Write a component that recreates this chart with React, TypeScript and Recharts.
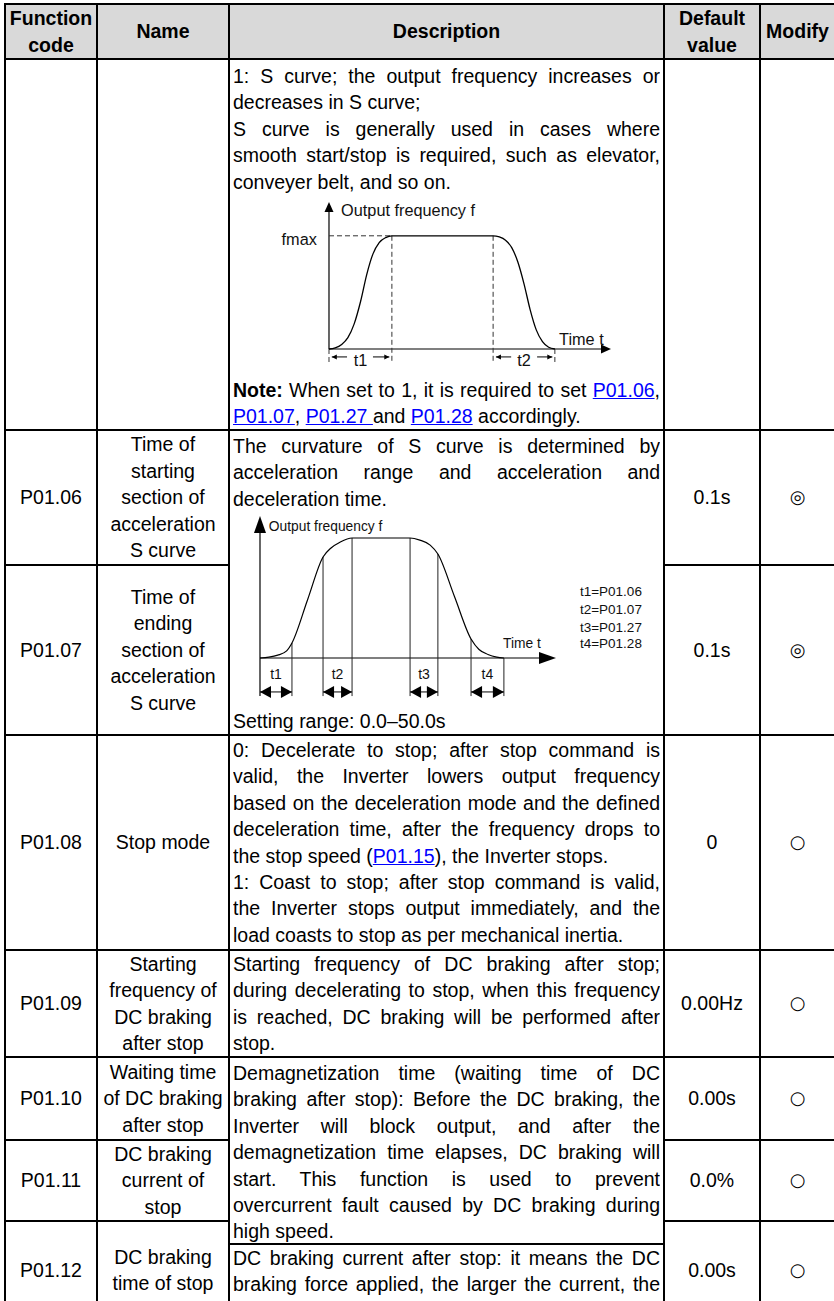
import React from 'react';
import { ComposedChart, Line, Scatter, XAxis, YAxis, ReferenceLine } from 'recharts';

const FONT = '"Liberation Sans", Arial, Helvetica, sans-serif';
const FS = 19.5;
const LH = 26.4;

// ---------------- table content ----------------
const headerCells = [['Function', 'code'], ['Name'], ['Description'], ['Default', 'value'], ['Modify']];
const functionCodes = ['', 'P01.06', 'P01.07', 'P01.08', 'P01.09', 'P01.10', 'P01.11', 'P01.12'];
const parameterNames = [
  [],
  ['Time of', 'starting', 'section of', 'acceleration', 'S curve'],
  ['Time of', 'ending', 'section of', 'acceleration', 'S curve'],
  ['Stop mode'],
  ['Starting', 'frequency of', 'DC braking', 'after stop'],
  ['Waiting time', 'of DC braking', 'after stop'],
  ['DC braking', 'current of', 'stop'],
  ['DC braking', 'time of stop'],
];
const defaultValues = ['', '0.1s', '0.1s', '0', '0.00Hz', '0.00s', '0.0%', '0.00s'];
const modifyMarks = ['', '◎', '◎', '○', '○', '○', '○', '○'];

type Seg = string | { t: string; k: 'b' | 'a' };
type DLine = { s: Seg[]; j: boolean };
const L = (j: boolean, ...s: Seg[]): DLine => ({ s, j });
const lnk = (t: string): Seg => ({ t, k: 'a' });
const bold = (t: string): Seg => ({ t, k: 'b' });

const descSCurveTop = [
  L(true, '1: S curve; the output frequency increases or'),
  L(false, 'decreases in S curve;'),
  L(true, 'S curve is generally used in cases where'),
  L(true, 'smooth start/stop is required, such as elevator,'),
  L(false, 'conveyer belt, and so on.'),
];
const descSCurveNote = [
  L(true, bold('Note:'), ' When set to 1, it is required to set ', lnk('P01.06'), ','),
  L(false, lnk('P01.07'), ', ', lnk('P01.27 '), 'and ', lnk('P01.28'), ' accordingly.'),
];
const descCurvatureTop = [
  L(true, 'The curvature of S curve is determined by'),
  L(true, 'acceleration range and acceleration and'),
  L(false, 'deceleration time.'),
];
const descCurvatureBottom = [L(false, 'Setting range: 0.0–50.0s')];
const descStopMode = [
  L(true, '0: Decelerate to stop; after stop command is'),
  L(true, 'valid, the Inverter lowers output frequency'),
  L(true, 'based on the deceleration mode and the defined'),
  L(true, 'deceleration time, after the frequency drops to'),
  L(false, 'the stop speed (', lnk('P01.15'), '), the Inverter stops.'),
  L(true, '1: Coast to stop; after stop command is valid,'),
  L(true, 'the Inverter stops output immediately, and the'),
  L(false, 'load coasts to stop as per mechanical inertia.'),
];
const descStartFreq = [
  L(true, 'Starting frequency of DC braking after stop;'),
  L(true, 'during decelerating to stop, when this frequency'),
  L(true, 'is reached, DC braking will be performed after'),
  L(false, 'stop.'),
];
const descDemag = [
  L(true, 'Demagnetization time (waiting time of DC'),
  L(true, 'braking after stop): Before the DC braking, the'),
  L(true, 'Inverter will block output, and after the'),
  L(true, 'demagnetization time elapses, DC braking will'),
  L(true, 'start. This function is used to prevent'),
  L(true, 'overcurrent fault caused by DC braking during'),
  L(false, 'high speed.'),
];
const descBrakeTime = [
  L(true, 'DC braking current after stop: it means the DC'),
  L(true, 'braking force applied, the larger the current, the'),
  L(false, 'stronger the DC braking effect.'),
];

// ---------------- diagram 1 (S curve) data ----------------
const sCurveTime = [0, 2.2, 4.5, 6.7, 8.9, 11.2, 13.4, 15.6, 17.8, 20.1, 22.3, 40.0, 58.2, 60.4, 62.6, 64.8, 67.0, 69.2, 71.3, 73.5, 75.7, 77.9, 80.1];
const sCurveFreq = [0, 0.8, 3.1, 7.7, 16.9, 32.3, 50.8, 64.7, 72.4, 75.8, 77, 77, 77, 76.2, 74, 69, 59, 44, 27, 13, 5, 1.2, 0];
const fmaxLevel = 77;
const t1End = 22.3;
const t2Start = 58.2;
const t2End = 80.1;
const dimLevel1 = -5.4;
const tickBottom1 = -9.5;
const labels1 = [
  { x: 4.3, y: 94.6, label: 'Output frequency f', anchor: 'start' },
  { x: -4.3, y: 75, label: 'fmax', anchor: 'end' },
  { x: 81.6, y: 6.8, label: 'Time t', anchor: 'start' },
  { x: 11.15, y: -7.3, label: 't1', anchor: 'middle' },
  { x: 69.15, y: -7.3, label: 't2', anchor: 'middle' },
];
const dimSegments1 = [
  [1, 6.4], [15.6, 21.4], [59.2, 64.6], [73.8, 79.2],
];
const dimHeads1 = [
  { x: 1, y: dimLevel1, dir: 'left' }, { x: 21.4, y: dimLevel1, dir: 'right' },
  { x: 59.2, y: dimLevel1, dir: 'left' }, { x: 79.2, y: dimLevel1, dir: 'right' },
];
const axisHeads1 = [{ x: 100, y: 0, dir: 'right' }, { x: 0, y: 100, dir: 'up' }];

// ---------------- diagram 2 (curvature) data ----------------
const sCurve2Time = [0, 3, 6, 9, 10.8, 16.05, 21.3, 24, 27, 31.1, 40.9, 50.7, 54, 57.5, 60.1, 65.7, 71.3, 74, 77, 80, 82.4];
const sCurve2Freq = [0, 0.6, 2, 5, 10.6, 40.85, 71.1, 77.5, 81.5, 84.5, 84.5, 84.5, 83, 79.5, 73.2, 43.3, 13.4, 6, 2.5, 0.6, 0];
const guideX2 = [10.8, 21.3, 31.1, 50.7, 60.1, 71.3, 82.4];
const guideTop2 = [10.6, 71.1, 84.5, 84.5, 73.2, 13.4, 0];
const guideBottom2 = -26.8;
const dimLevel2 = -23.9;
const dimSpans2 = [[0, 10.8], [21.3, 31.1], [50.7, 60.1], [71.3, 82.4]];
const dimNames2 = ['t1', 't2', 't3', 't4'];
const tLabelLevel2 = -11.3;
const legend2 = ['t1=P01.06', 't2=P01.07', 't3=P01.27', 't4=P01.28'];
const legendY2 = [46.5, 34.5, 21.8, 9.9];
const legendX2 = 108.1;
const labels2 = [
  { x: 3.0, y: 92.3, label: 'Output frequency f', anchor: 'start' },
  { x: 82.1, y: 9.9, label: 'Time t', anchor: 'start' },
];
const axisHeads2 = [{ x: 100, y: 0, dir: 'right' }, { x: 0, y: 100, dir: 'up' }];

// ---------------- shapes ----------------
const headShape = (len: number, half: number) => (p: any) => {
  const { cx, cy, payload } = p;
  const d = payload.dir;
  let pts = '';
  if (d === 'right') pts = `${cx},${cy} ${cx - len},${cy - half} ${cx - len},${cy + half}`;
  else if (d === 'left') pts = `${cx},${cy} ${cx + len},${cy - half} ${cx + len},${cy + half}`;
  else pts = `${cx},${cy} ${cx - half},${cy + len} ${cx + half},${cy + len}`;
  return <polygon points={pts} fill="#000" stroke="none" />;
};
const textShape = (size: number) => (p: any) => (
  <text
    x={p.cx}
    y={p.cy}
    textAnchor={p.payload.anchor}
    dominantBaseline="central"
    fontSize={size}
    fontFamily={FONT}
    fill="#111"
  >
    {p.payload.label}
  </text>
);

function SCurveDiagram() {
  const curve = sCurveTime.map((x, i) => ({ x, y: sCurveFreq[i] }));
  const dash = '5 3';
  return (
    <ComposedChart width={427} height={182} margin={{ top: 0, right: 0, bottom: 0, left: 0 }}>
      <XAxis type="number" dataKey="x" domain={[-34.04, 117.38]} hide height={0} />
      <YAxis type="number" dataKey="y" domain={[-19.05, 104.76]} hide width={0} />
      <ReferenceLine segment={[{ x: 0, y: 0 }, { x: 97, y: 0 }]} stroke="#000" strokeWidth={1.2} ifOverflow="visible" />
      <ReferenceLine segment={[{ x: 0, y: 0 }, { x: 0, y: 96 }]} stroke="#000" strokeWidth={1.2} ifOverflow="visible" />
      <ReferenceLine segment={[{ x: 0, y: 0 }, { x: 0, y: tickBottom1 }]} stroke="#333" strokeDasharray={dash} ifOverflow="visible" />
      <ReferenceLine segment={[{ x: 0, y: fmaxLevel }, { x: t1End, y: fmaxLevel }]} stroke="#333" strokeDasharray={dash} ifOverflow="visible" />
      <ReferenceLine segment={[{ x: t1End, y: fmaxLevel }, { x: t1End, y: tickBottom1 }]} stroke="#333" strokeDasharray={dash} ifOverflow="visible" />
      <ReferenceLine segment={[{ x: t2Start, y: fmaxLevel }, { x: t2Start, y: tickBottom1 }]} stroke="#333" strokeDasharray={dash} ifOverflow="visible" />
      <ReferenceLine segment={[{ x: t2End, y: 0 }, { x: t2End, y: tickBottom1 }]} stroke="#333" strokeDasharray={dash} ifOverflow="visible" />
      {dimSegments1.map((s, i) => (
        <ReferenceLine key={i} segment={[{ x: s[0], y: dimLevel1 }, { x: s[1], y: dimLevel1 }]} stroke="#000" strokeWidth={1} ifOverflow="visible" />
      ))}
      <Line data={curve} dataKey="y" type="monotone" stroke="#000" strokeWidth={1.3} dot={false} activeDot={false} isAnimationActive={false} />
      <Scatter data={axisHeads1} shape={headShape(10, 4.5)} isAnimationActive={false} />
      <Scatter data={dimHeads1} shape={headShape(5, 2.5)} isAnimationActive={false} />
      <Scatter data={labels1} shape={textShape(16.3)} isAnimationActive={false} />
    </ComposedChart>
  );
}

function CurvatureDiagram() {
  const curve = sCurve2Time.map((x, i) => ({ x, y: sCurve2Freq[i] }));
  const tLabels = dimSpans2.map((s, i) => ({ x: (s[0] + s[1]) / 2, y: tLabelLevel2, label: dimNames2[i], anchor: 'middle' }));
  const heads = dimSpans2.flatMap((s) => [
    { x: s[0], y: dimLevel2, dir: 'left' },
    { x: s[1], y: dimLevel2, dir: 'right' },
  ]);
  const legend = legend2.map((label, i) => ({ x: legendX2, y: legendY2[i], label, anchor: 'start' }));
  return (
    <ComposedChart width={427} height={196} margin={{ top: 0, right: 0, bottom: 0, left: 0 }}>
      <XAxis type="number" dataKey="x" domain={[-9.12, 135.14]} hide height={0} />
      <YAxis type="number" dataKey="y" domain={[-35.2, 102.8]} hide width={0} />
      <ReferenceLine segment={[{ x: 0, y: 0 }, { x: 95, y: 0 }]} stroke="#000" strokeWidth={1.2} ifOverflow="visible" />
      <ReferenceLine segment={[{ x: 0, y: guideBottom2 }, { x: 0, y: 92 }]} stroke="#000" strokeWidth={1.2} ifOverflow="visible" />
      {guideX2.map((gx, i) => (
        <ReferenceLine key={i} segment={[{ x: gx, y: guideTop2[i] }, { x: gx, y: guideBottom2 }]} stroke="#222" strokeWidth={1} ifOverflow="visible" />
      ))}
      {dimSpans2.map((s, i) => (
        <ReferenceLine key={'d' + i} segment={[{ x: s[0], y: dimLevel2 }, { x: s[1], y: dimLevel2 }]} stroke="#000" strokeWidth={1} ifOverflow="visible" />
      ))}
      <Line data={curve} dataKey="y" type="monotone" stroke="#000" strokeWidth={1.2} dot={false} activeDot={false} isAnimationActive={false} />
      <Scatter data={axisHeads2} shape={headShape(17, 6)} isAnimationActive={false} />
      <Scatter data={heads} shape={headShape(11, 6)} isAnimationActive={false} />
      <Scatter data={labels2} shape={textShape(13.8)} isAnimationActive={false} />
      <Scatter data={tLabels} shape={textShape(14)} isAnimationActive={false} />
      <Scatter data={legend} shape={textShape(13.5)} isAnimationActive={false} />
    </ComposedChart>
  );
}

// ---------------- table rendering ----------------
function renderSeg(s: Seg, i: number) {
  if (typeof s === 'string') return <React.Fragment key={i}>{s}</React.Fragment>;
  if (s.k === 'b') return <b key={i}>{s.t}</b>;
  return (
    <span key={i} style={{ color: '#0000ff', textDecoration: 'underline' }}>
      {s.t}
    </span>
  );
}

function TextLines({ lines }: { lines: DLine[] }) {
  return (
    <>
      {lines.map((ln, i) => (
        <div
          key={i}
          style={{
            height: LH,
            textAlign: 'justify',
            textAlignLast: ln.j ? 'justify' : 'left',
            overflow: 'hidden',
          } as any}
        >
          {ln.s.map(renderSeg)}
        </div>
      ))}
    </>
  );
}

const rowHeights = [53, 369, 133, 168, 213, 105, 81, 79, 96];

const centerCell = (row: string | number, col: number, extra: any = {}) => ({
  gridRow: row,
  gridColumn: col,
  background: '#fff',
  display: 'flex',
  flexDirection: 'column' as const,
  alignItems: 'center',
  justifyContent: 'center',
  textAlign: 'center' as const,
  overflow: 'hidden',
  ...extra,
});

const descCell = (row: string, padTop: number) => ({
  gridRow: row,
  gridColumn: 3,
  background: '#fff',
  padding: `${padTop}px 3px 0 3px`,
  overflow: 'hidden',
});

export default function App() {
  return (
    <div
      style={{
        position: 'absolute',
        left: 0,
        top: 0,
        width: 834,
        height: 1301,
        overflow: 'hidden',
        background: '#fff',
        fontFamily: FONT,
        fontSize: FS,
        lineHeight: `${LH}px`,
        color: '#000',
      }}
    >
      <div
        style={{
          position: 'absolute',
          left: 4,
          top: 3,
          display: 'grid',
          gridTemplateColumns: '90px 130px 433px 94px 73px',
          gridTemplateRows: rowHeights.map((h) => `${h}px`).join(' '),
          gap: 2,
          padding: 2,
          background: '#000',
        }}
      >
        {headerCells.map((h, i) => (
          <div key={'h' + i} style={centerCell(1, i + 1, { background: '#d9d9d9', fontWeight: 'bold' })}>
            {h.map((t, k) => (
              <div key={k}>{t}</div>
            ))}
          </div>
        ))}

        {functionCodes.map((c, i) => (
          <div key={'c' + i} style={centerCell(i + 2, 1)}>
            {c}
          </div>
        ))}
        {parameterNames.map((n, i) => (
          <div key={'n' + i} style={centerCell(i + 2, 2)}>
            {n.map((t, k) => (
              <div key={k} style={{ whiteSpace: 'nowrap' }}>{t}</div>
            ))}
          </div>
        ))}
        {defaultValues.map((v, i) => (
          <div key={'v' + i} style={centerCell(i + 2, 4)}>
            {v}
          </div>
        ))}
        {modifyMarks.map((m, i) => (
          <div key={'m' + i} style={centerCell(i + 2, 5, { fontFamily: '"DejaVu Sans", sans-serif', fontSize: 18 })}>
            {m}
          </div>
        ))}

        <div style={descCell('2', 3)}>
          <TextLines lines={descSCurveTop} />
          <div style={{ height: 182 }}>
            <SCurveDiagram />
          </div>
          <TextLines lines={descSCurveNote} />
        </div>

        <div style={descCell('3 / 5', 2)}>
          <TextLines lines={descCurvatureTop} />
          <div style={{ height: 196 }}>
            <CurvatureDiagram />
          </div>
          <TextLines lines={descCurvatureBottom} />
        </div>

        <div style={descCell('5', 1)}>
          <TextLines lines={descStopMode} />
        </div>

        <div style={descCell('6', 0)}>
          <TextLines lines={descStartFreq} />
        </div>

        <div style={descCell('7 / 10', 2)}>
          <TextLines lines={descDemag} />
          <div style={{ height: 2, background: '#000', margin: '-2px -3px 0 -3px' }} />
          <TextLines lines={descBrakeTime} />
        </div>
      </div>
    </div>
  );
}
